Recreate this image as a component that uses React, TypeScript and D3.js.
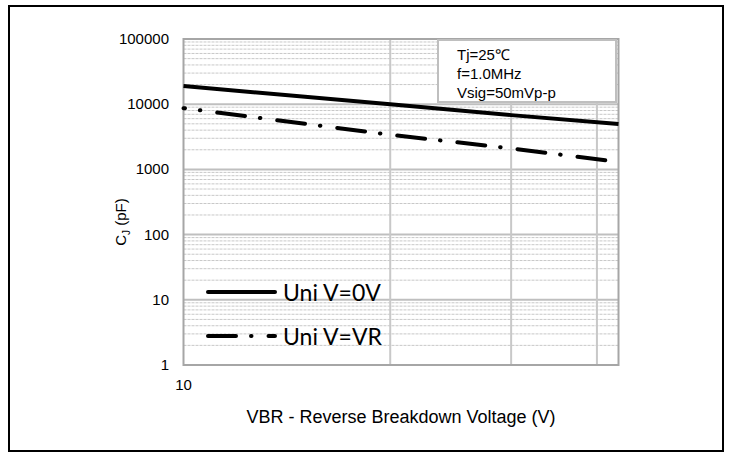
import React, { useEffect, useRef } from 'react';
import * as d3 from 'd3';

// data
const voltages = [10, 20, 30, 43];
const cjZeroBias = [19000, 10000, 6800, 4950];
const cjRatedBias = [8700, 3400, 2100, 1300];
const yTicks = [1, 10, 100, 1000, 10000, 100000];
const xGrid = [20, 30, 40];
const xTickLabels = [10];
const seriesNames = ['Uni V=0V', 'Uni V=VR'];
const conditions = ['Tj=25℃', 'f=1.0MHz', 'Vsig=50mVp-p'];

const W = 734;
const H = 454;

const App: React.FC = () => {
  const svgRef = useRef<SVGSVGElement>(null);

  useEffect(() => {
    if (!svgRef.current) return;
    const svg = d3.select(svgRef.current);
    svg.selectAll('*').remove();

    const left = 183.5, right = 618.5, top = 39, bottom = 365;
    const x = d3.scaleLog().domain([10, 43]).range([left, right]);
    const y = d3.scaleLog().domain([1, 100000]).range([bottom, top]);
    const font = 'Liberation Sans, Arial, sans-serif';

    // outer frame
    svg.append('rect')
      .attr('x', 9).attr('y', 6).attr('width', 714).attr('height', 445)
      .attr('fill', 'white').attr('stroke', '#000').attr('stroke-width', 2);

    const g = svg.append('g');

    // minor horizontal grid
    const minors: number[] = [];
    yTicks.slice(0, -1).forEach(d => {
      for (let k = 2; k <= 9; k++) minors.push(d * k);
    });
    g.selectAll('.minor')
      .data(minors)
      .enter()
      .append('line')
      .attr('x1', left).attr('x2', right)
      .attr('y1', d => y(d)).attr('y2', d => y(d))
      .attr('stroke', '#c8c8c8').attr('stroke-width', 1)
      .attr('stroke-dasharray', '3 1');

    // major horizontal grid
    g.selectAll('.major')
      .data(yTicks)
      .enter()
      .append('line')
      .attr('x1', left).attr('x2', right)
      .attr('y1', d => y(d)).attr('y2', d => y(d))
      .attr('stroke', '#bfbfbf').attr('stroke-width', 2);

    // vertical grid
    g.selectAll('.vgrid')
      .data(xGrid)
      .enter()
      .append('line')
      .attr('x1', d => x(d)).attr('x2', d => x(d))
      .attr('y1', top).attr('y2', bottom)
      .attr('stroke', '#c8c8c8').attr('stroke-width', 2);

    // plot border
    g.append('rect')
      .attr('x', left).attr('y', top)
      .attr('width', right - left).attr('height', bottom - top)
      .attr('fill', 'none').attr('stroke', '#a6a6a6').attr('stroke-width', 2);

    // y tick labels
    g.selectAll('.ylab')
      .data(yTicks)
      .enter()
      .append('text')
      .attr('x', 169)
      .attr('y', d => y(d) + 5)
      .attr('text-anchor', 'end')
      .style('font-family', font)
      .style('font-size', '15px')
      .text(d => String(d));

    // x tick labels
    g.selectAll('.xlab')
      .data(xTickLabels)
      .enter()
      .append('text')
      .attr('x', d => x(d))
      .attr('y', 390)
      .attr('text-anchor', 'middle')
      .style('font-family', font)
      .style('font-size', '15px')
      .text(d => String(d));

    // axis titles
    g.append('text')
      .attr('x', 401).attr('y', 423)
      .attr('text-anchor', 'middle')
      .style('font-family', font)
      .style('font-size', '18px')
      .text('VBR - Reverse Breakdown Voltage (V)');

    const yTitle = g.append('text')
      .attr('transform', 'translate(126,222) rotate(-90)')
      .attr('text-anchor', 'middle')
      .style('font-family', font)
      .style('font-size', '15px');
    yTitle.append('tspan').text('C');
    yTitle.append('tspan').attr('dy', 4).style('font-size', '10px').text('J');
    yTitle.append('tspan').attr('dy', -4).text(' (pF)');

    // series
    const line = d3.line<number>()
      .x((_, i) => x(voltages[i]))
      .y(d => y(d));

    g.append('path')
      .datum(cjZeroBias)
      .attr('d', line)
      .attr('fill', 'none')
      .attr('stroke', '#000')
      .attr('stroke-width', 4);

    const dashDot = '28 15 0.5 17';
    g.append('path')
      .datum(cjRatedBias)
      .attr('d', line)
      .attr('fill', 'none')
      .attr('stroke', '#000')
      .attr('stroke-width', 4)
      .attr('stroke-linecap', 'round')
      .attr('stroke-dasharray', dashDot)
      .attr('stroke-dashoffset', 26.5);

    // conditions box
    g.append('rect')
      .attr('x', 438).attr('y', 40).attr('width', 178).attr('height', 62)
      .attr('fill', 'white').attr('stroke', '#bfbfbf').attr('stroke-width', 2);
    g.selectAll('.cond')
      .data(conditions)
      .enter()
      .append('text')
      .attr('x', 457)
      .attr('y', (_, i) => 60 + i * 19)
      .style('font-family', font)
      .style('font-size', '15px')
      .text(d => d);

    // legend
    const legendY = [292, 336];
    seriesNames.forEach((name, i) => {
      g.append('line')
        .attr('x1', 208).attr('x2', 275)
        .attr('y1', legendY[i]).attr('y2', legendY[i])
        .attr('stroke', '#000').attr('stroke-width', 4)
        .attr('stroke-linecap', 'round')
        .attr('stroke-dasharray', i === 0 ? null : dashDot);
      g.append('text')
        .attr('x', 283).attr('y', legendY[i] + 9)
        .style('font-family', 'Lato, sans-serif')
        .style('font-size', '23px')
        .text(name);
    });
  }, []);

  return (
    <svg
      ref={svgRef}
      width={W}
      height={H}
      style={{ position: 'absolute', left: 0, top: 0 }}
    />
  );
};

export default App;
